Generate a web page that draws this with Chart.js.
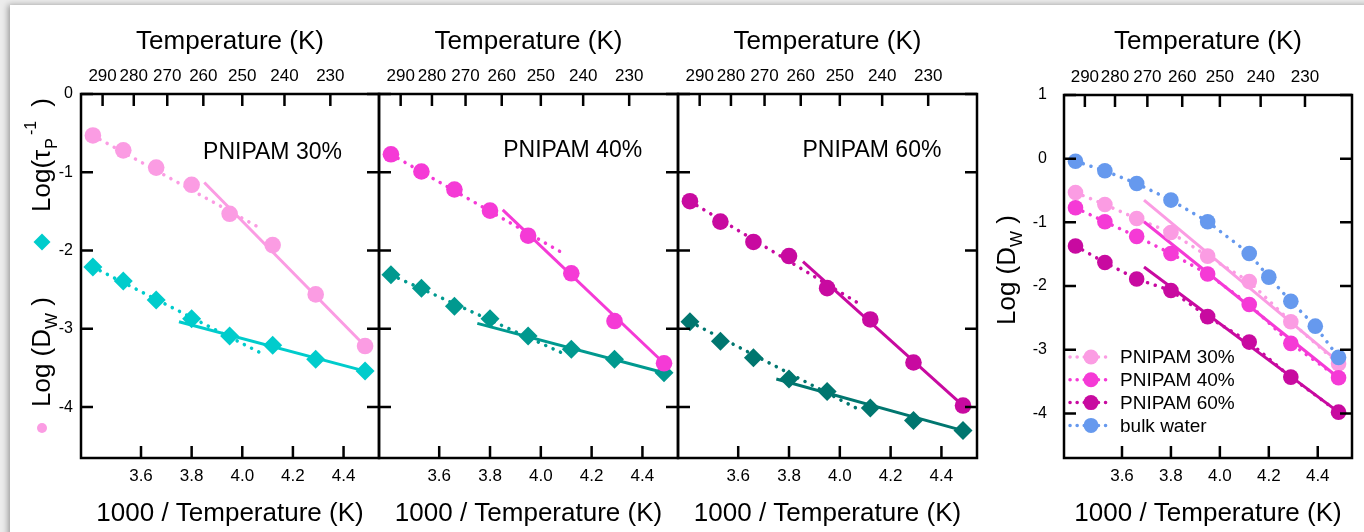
<!DOCTYPE html>
<html>
<head>
<meta charset="utf-8">
<script src="https://cdn.jsdelivr.net/npm/chart.js@4.4.1/dist/chart.umd.min.js"></script>
<style>
    html, body { margin: 0; padding: 0; background: #ececec; }
    #page { position: relative; width: 1364px; height: 532px; overflow: hidden; }
    #card { position: absolute; left: 10px; top: 5px; width: 1360px; height: 540px; background: #fff;
            box-shadow: -2px 0 6px rgba(0,0,0,0.35); }
    canvas { position: absolute; top: 0; }
</style>
</head>
<body>
<div id="page">
    <div id="card"></div>
    <canvas id="p1" width="400" height="532" style="left:0px"></canvas>
    <canvas id="p2" width="400" height="532" style="left:300px"></canvas>
    <canvas id="p3" width="400" height="532" style="left:600px"></canvas>
    <canvas id="p4" width="404" height="532" style="left:960px"></canvas>
</div>
<script>
// ---------------------------------------------------------------------
// Data. x = 1000 / T (K^-1), y = log values.
// ---------------------------------------------------------------------
const X_MIN = 3.363, X_MAX = 4.54;
const xTicks = [3.6, 3.8, 4.0, 4.2, 4.4];
const tempTicks = [290, 280, 270, 260, 250, 240, 230];   // top axis labels (K)
const yTicksPanel = [0, -1, -2, -3, -4];
const yTicksAll = [1, 0, -1, -2, -3, -4];

const invT = [3.41, 3.53, 3.66, 3.80, 3.95, 4.12, 4.29, 4.485];
const invTWater = [3.41, 3.53, 3.66, 3.80, 3.95, 4.12, 4.20, 4.29, 4.39, 4.485];

// Log(tau_P^-1) — circles
const tau30 = [-0.53, -0.72, -0.94, -1.16, -1.53, -1.93, -2.56, -3.22];
const tau40 = [-0.77, -0.99, -1.22, -1.49, -1.81, -2.29, -2.90, -3.44];
const tau60 = [-1.37, -1.63, -1.89, -2.07, -2.48, -2.88, -3.43, -3.98];
// Log(D_W) — diamonds
const dw30 = [-2.21, -2.39, -2.63, -2.87, -3.09, -3.21, -3.39, -3.54];
const dw40 = [-2.31, -2.48, -2.71, -2.87, -3.09, -3.26, -3.39, -3.56];
const dw60 = [-2.91, -3.16, -3.37, -3.64, -3.80, -4.01, -4.17, -4.30];
// bulk water, right panel
const water = [-0.04, -0.19, -0.39, -0.65, -0.99, -1.49, -1.86, -2.24, -2.63, -3.12];

// fit lines, [x, y] end points (dotted = high T, solid = low T)
const tau30Hi = [[3.41, -0.53], [4.08, -1.73]];
const tau30Lo = [[3.85, -1.13], [4.485, -3.22]];
const dw30Hi = [[3.41, -2.21], [4.08, -3.32]];
const dw30Lo = [[3.75, -2.91], [4.485, -3.54]];
const tau40Hi = [[3.41, -0.77], [4.085, -2.03]];
const tau40Lo = [[3.85, -1.48], [4.485, -3.44]];
const dw40Hi = [[3.41, -2.31], [4.085, -3.31]];
const dw40Lo = [[3.75, -2.93], [4.485, -3.56]];
const tau60Hi = [[3.41, -1.37], [4.087, -2.70]];
const tau60Lo = [[3.855, -2.14], [4.485, -3.98]];
const dw60Hi = [[3.41, -2.91], [4.087, -4.05]];
const dw60Lo = [[3.75, -3.64], [4.485, -4.30]];
const tau30All = [[3.69, -0.65], [4.485, -3.19]];
const tau40All = [[3.69, -0.99], [4.485, -3.44]];
const tau60All = [[3.69, -1.70], [4.485, -3.98]];

const C = {
    pink: "#fb9ce3", cyan: "#00cccc",
    mag: "#f53ad6", teal: "#00998f",
    pur: "#c80aa0", dteal: "#00766f",
    blue: "#6699ee"
};
const FONT = "'Liberation Sans', Arial, sans-serif";
const TICK = 12;

Chart.defaults.font.family = FONT;
Chart.defaults.color = "#000";

function pts(xs, ys) { return xs.map((x, i) => ({ x: x, y: ys[i] })); }
function seg(p) { return p.map(q => ({ x: q[0], y: q[1] })); }

function markers(data, color, style, r) {
    return {
        data: data, showLine: false, pointStyle: style,
        pointRadius: r, pointHoverRadius: r,
        pointBackgroundColor: color, pointBorderColor: color, pointBorderWidth: 0
    };
}
function line(data, color, dotted) {
    return {
        data: data, showLine: true, pointRadius: 0, pointHoverRadius: 0,
        borderColor: color, borderWidth: dotted ? 3.5 : 3,
        borderDash: dotted ? [0.1, 8] : [], borderCapStyle: dotted ? "round" : "butt"
    };
}

// rotated axis title with sub/superscript pieces
function drawRotated(ctx, x, y, parts) {
    ctx.save();
    ctx.translate(x, y);
    ctx.rotate(-Math.PI / 2);
    ctx.textAlign = "left";
    ctx.textBaseline = "alphabetic";
    ctx.fillStyle = "#000";
    let cx = 0;
    parts.forEach(p => {
        cx += p.gap || 0;
        ctx.font = p.size + "px " + FONT;
        ctx.fillText(p.t, cx, p.dy || 0);
        cx += ctx.measureText(p.t).width;
    });
    ctx.restore();
}

function drawMarker(ctx, style, x, y, r, color) {
    ctx.fillStyle = color;
    ctx.beginPath();
    if (style === "rectRot") {
        ctx.moveTo(x - r, y); ctx.lineTo(x, y - r); ctx.lineTo(x + r, y); ctx.lineTo(x, y + r);
        ctx.closePath();
    } else {
        ctx.arc(x, y, r, 0, Math.PI * 2);
    }
    ctx.fill();
}

// frame, inward ticks, panel note, y titles and legend
const decoPlugin = {
    id: "deco",
    afterDatasetsDraw(chart, args, o) {
        const ctx = chart.ctx, a = chart.chartArea;
        const sx = chart.scales.x, st = chart.scales.xTop, sy = chart.scales.y;
        ctx.save();
        ctx.strokeStyle = "#000";
        ctx.lineWidth = 2.5;
        ctx.beginPath();
        sx.ticks.forEach(t => { const p = sx.getPixelForValue(t.value); ctx.moveTo(p, a.bottom); ctx.lineTo(p, a.bottom - TICK); });
        st.ticks.forEach(t => { const p = st.getPixelForValue(t.value); ctx.moveTo(p, a.top); ctx.lineTo(p, a.top + TICK); });
        sy.ticks.forEach(t => {
            const p = sy.getPixelForValue(t.value);
            ctx.moveTo(a.left, p); ctx.lineTo(a.left + TICK, p);
            ctx.moveTo(a.right, p); ctx.lineTo(a.right - TICK, p);
        });
        ctx.stroke();
        ctx.strokeRect(a.left, a.top, a.right - a.left, a.bottom - a.top);

        if (o.note) {
            ctx.fillStyle = "#000";
            ctx.font = "23px " + FONT;
            ctx.textAlign = "left";
            ctx.textBaseline = "middle";
            ctx.fillText(o.note.text, sx.getPixelForValue(o.note.x), sy.getPixelForValue(o.note.y));
        }
        (o.titles || []).forEach(t => drawRotated(ctx, a.left + t.dx, t.y, t.parts));
        (o.marks || []).forEach(m => drawMarker(ctx, m.style, a.left + m.dx, m.y, m.r, m.color));

        if (o.legend) {
            const x0 = a.left + 6, x1 = a.left + 44, xm = a.left + 27;
            o.legend.forEach((it, i) => {
                const y = a.bottom - 101 + i * 22.8;
                ctx.strokeStyle = it.color;
                ctx.lineWidth = 3.5;
                ctx.lineCap = "round";
                ctx.setLineDash([0.1, 7]);
                ctx.beginPath(); ctx.moveTo(x0, y); ctx.lineTo(x1, y); ctx.stroke();
                ctx.setLineDash([]);
                drawMarker(ctx, "circle", xm, y, 7.5, it.color);
                ctx.fillStyle = "#000";
                ctx.font = "19px " + FONT;
                ctx.textAlign = "left";
                ctx.textBaseline = "middle";
                ctx.fillText(it.label, a.left + 56, y + 1);
            });
        }
        ctx.restore();
    }
};

function makePanel(id, cfg) {
    const tickFont = { size: 17 };
    return new Chart(document.getElementById(id), {
        type: "scatter",
        data: { datasets: cfg.datasets },
        options: {
            responsive: false, animation: false, devicePixelRatio: 1,
            layout: { padding: { left: 0, right: cfg.padRight, top: 0, bottom: 0 } },
            plugins: { legend: { display: false }, tooltip: { enabled: false }, deco: cfg.deco },
            scales: {
                x: {
                    type: "linear", position: "bottom", min: X_MIN, max: X_MAX,
                    afterBuildTicks: s => { s.ticks = xTicks.map(v => ({ value: v })); },
                    afterFit: s => { s.height = 74; },
                    grid: { display: false, drawTicks: false }, border: { display: false },
                    ticks: { autoSkip: false, maxRotation: 0, minRotation: 0, padding: 8.5, font: tickFont,
                             callback: v => Number(v).toFixed(1) },
                    title: { display: true, text: "1000 / Temperature (K)", font: { size: 26 },
                             padding: { top: 0, bottom: 3 } }
                },
                xTop: {
                    type: "linear", position: "top", min: X_MIN, max: X_MAX,
                    afterBuildTicks: s => { s.ticks = tempTicks.map(t => ({ value: 1000 / t })); },
                    afterFit: s => { s.height = cfg.top; },
                    grid: { display: false, drawTicks: false }, border: { display: false },
                    ticks: { autoSkip: false, maxRotation: 0, minRotation: 0, padding: 7, font: tickFont,
                             callback: (v, i) => String(tempTicks[i]) },
                    title: { display: true, text: "Temperature (K)", font: { size: 26 },
                             padding: { top: 26, bottom: 0 } }
                },
                y: {
                    type: "linear", position: "left", min: cfg.yMin, max: cfg.yMax,
                    afterBuildTicks: s => { s.ticks = cfg.yTicks.map(v => ({ value: v })); },
                    afterFit: s => { s.width = cfg.yWidth; },
                    grid: { display: false, drawTicks: false }, border: { display: false },
                    ticks: { display: cfg.yLabels, padding: cfg.yPad, font: { size: 16 },
                             callback: v => String(v) }
                }
            }
        },
        plugins: [decoPlugin]
    });
}

const tauTitle = [
    { t: "Log(\u03c4", size: 26 },
    { t: "P", size: 16, dy: 7, gap: 1 },
    { t: "-1", size: 16, dy: -14, gap: 3 },
    { t: ")", size: 26, gap: 14 }
];
const dwTitle = [
    { t: "Log (D", size: 26 },
    { t: "W", size: 17, dy: 7 },
    { t: " )", size: 26 }
];

makePanel("p1", {
    padRight: 21, yWidth: 81, top: 94, yMin: -4.65, yMax: 0, yTicks: yTicksPanel, yLabels: true, yPad: 8,
    datasets: [
        markers(pts(invT, tau30), C.pink, "circle", 8.3),
        markers(pts(invT, dw30), C.cyan, "rectRot", 9.5),
        line(seg(tau30Lo), C.pink, false),
        line(seg(tau30Hi), C.pink, true),
        line(seg(dw30Lo), C.cyan, false),
        line(seg(dw30Hi), C.cyan, true)
    ],
    deco: {
        note: { text: "PNIPAM 30%", x: 3.845, y: -0.75 },
        titles: [{ dx: -31, y: 212, parts: tauTitle }, { dx: -31, y: 407, parts: dwTitle }],
        marks: [
            { style: "rectRot", dx: -39, y: 242, r: 8.5, color: C.cyan },
            { style: "circle", dx: -39, y: 428, r: 5, color: C.pink }
        ]
    }
});

makePanel("p2", {
    padRight: 22, yWidth: 79, top: 94, yMin: -4.65, yMax: 0, yTicks: yTicksPanel, yLabels: false, yPad: 8,
    datasets: [
        markers(pts(invT, tau40), C.mag, "circle", 8.3),
        markers(pts(invT, dw40), C.teal, "rectRot", 9.5),
        line(seg(tau40Lo), C.mag, false),
        line(seg(tau40Hi), C.mag, true),
        line(seg(dw40Lo), C.teal, false),
        line(seg(dw40Hi), C.teal, true)
    ],
    deco: { note: { text: "PNIPAM 40%", x: 3.852, y: -0.73 } }
});

makePanel("p3", {
    padRight: 23, yWidth: 78, top: 94, yMin: -4.65, yMax: 0, yTicks: yTicksPanel, yLabels: false, yPad: 8,
    datasets: [
        markers(pts(invT, tau60), C.pur, "circle", 8.3),
        markers(pts(invT, dw60), C.dteal, "rectRot", 9.5),
        line(seg(tau60Lo), C.pur, false),
        line(seg(tau60Hi), C.pur, true),
        line(seg(dw60Lo), C.dteal, false),
        line(seg(dw60Hi), C.dteal, true)
    ],
    deco: { note: { text: "PNIPAM 60%", x: 3.853, y: -0.73 } }
});

makePanel("p4", {
    padRight: 12, yWidth: 104, top: 95, yMin: -4.7, yMax: 1, yTicks: yTicksAll, yLabels: true, yPad: 17,
    datasets: [
        markers(pts(invTWater, water), C.blue, "circle", 7.8),
        markers(pts(invT, tau60), C.pur, "circle", 7.8),
        markers(pts(invT, tau40), C.mag, "circle", 7.8),
        markers(pts(invT, tau30), C.pink, "circle", 7.8),
        line(pts(invTWater, water), C.blue, true),
        line(seg(tau60All), C.pur, false),
        line(seg(tau40All), C.mag, false),
        line(seg(tau30All), C.pink, false),
        line(pts(invT, tau60), C.pur, true),
        line(pts(invT, tau40), C.mag, true),
        line(pts(invT, tau30), C.pink, true)
    ],
    deco: {
        titles: [{ dx: -49, y: 325, parts: dwTitle }],
        legend: [
            { label: "PNIPAM 30%", color: C.pink },
            { label: "PNIPAM 40%", color: C.mag },
            { label: "PNIPAM 60%", color: C.pur },
            { label: "bulk water", color: C.blue }
        ]
    }
});
</script>
</body>
</html>
